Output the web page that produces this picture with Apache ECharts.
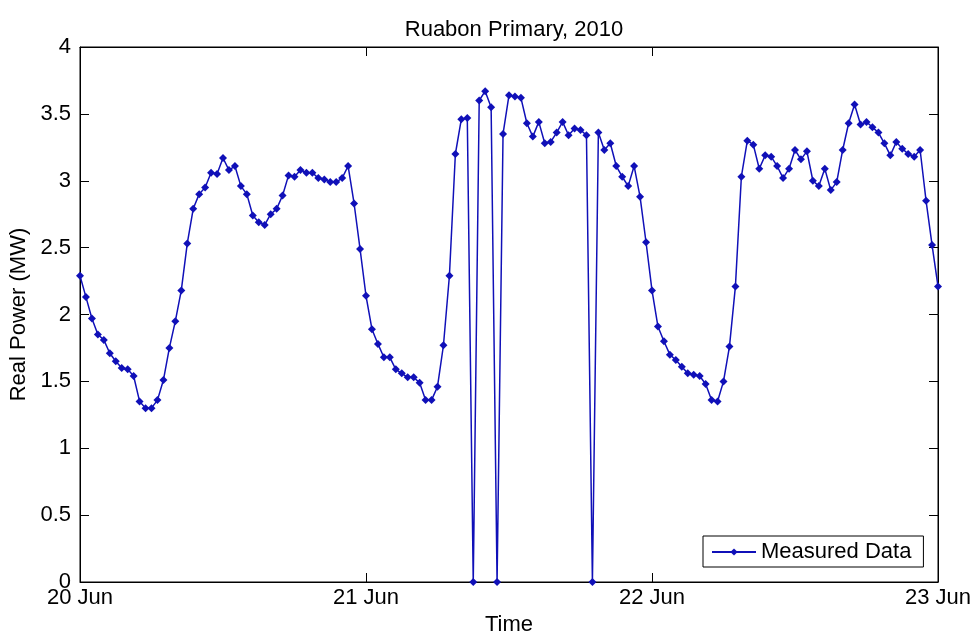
<!DOCTYPE html>
<html>
<head>
<meta charset="utf-8">
<script src="https://cdn.jsdelivr.net/npm/echarts@6/dist/echarts.min.js"></script>
<style>
html,body{margin:0;padding:0;background:#fff;}
#chart{width:975px;height:635px;}
</style>
</head>
<body>
<div id="chart"></div>
<script>
// Half-hourly samples (MW), 20 Jun 00:00 .. 23 Jun 00:00
const day20Values = [2.29,2.13,1.97,1.85,1.81,1.71,1.65,1.60,1.59,1.54,1.35,1.30,1.30,1.36,1.51,1.75,
  1.95,2.18,2.53,2.79,2.90,2.95,3.06,3.05,3.17,3.08,3.11,2.96,2.90,2.74,2.69,2.67,
  2.75,2.79,2.89,3.04,3.03,3.08,3.06,3.06,3.02,3.01,2.99,2.99,3.02,3.11,2.83,2.49];
const day21Values = [2.14,1.89,1.78,1.68,1.68,1.59,1.56,1.53,1.53,1.49,1.36,1.36,1.46,1.77,2.29,3.20,
  3.46,3.47,0,3.60,3.67,3.55,0,3.35,3.64,3.63,3.62,3.43,3.33,3.44,3.28,3.29,
  3.36,3.44,3.34,3.39,3.38,3.34,0,3.36,3.23,3.28,3.11,3.03,2.96,3.11,2.88,2.54];
const day22Values = [2.18,1.91,1.80,1.70,1.66,1.61,1.56,1.55,1.54,1.48,1.36,1.35,1.50,1.76,2.21,3.03,
  3.30,3.27,3.09,3.19,3.18,3.11,3.02,3.09,3.23,3.16,3.22,3.00,2.96,3.09,2.93,2.99,
  3.23,3.43,3.57,3.42,3.44,3.40,3.36,3.28,3.19,3.29,3.24,3.20,3.18,3.23,2.85,2.52,
  2.21];
const xTickLabels = ['20 Jun','21 Jun','22 Jun','23 Jun'];
const yTicks = [0,0.5,1,1.5,2,2.5,3,3.5,4];
const seriesName = 'Measured Data';
const titleText = 'Ruabon Primary, 2010';
const stepHours = 0.5;

const allValues = day20Values.concat(day21Values, day22Values);
const points = allValues.map((v, i) => [i * stepHours, v]);

const FONT = '"Liberation Sans", Arial, sans-serif';
const FS = 22;
const LINE = '#1010b8';

const tickStyle = {show: true, inside: true, length: 9, lineStyle: {color: '#000', width: 1}};
const lineAx = {show: true, onZero: false, lineStyle: {color: '#000', width: 1}};

const chart = echarts.init(document.getElementById('chart'), null, {renderer: 'canvas'});
chart.setOption({
  animation: false,
  backgroundColor: '#fff',
  title: {
    text: titleText, left: 509, top: 14, textAlign: 'center',
    textStyle: {fontFamily: FONT, fontSize: FS, fontWeight: 'normal', color: '#000'}
  },
  grid: {left: 80, right: 37, top: 47, bottom: 53, show: true, borderColor: '#000', borderWidth: 1,
    containLabel: false, outerBoundsMode: 'none'},
  legend: {
    data: [seriesName], left: 703, top: 536,
    backgroundColor: '#fff', borderColor: '#000', borderWidth: 1,
    padding: [5, 12, 4, 8], itemWidth: 44, itemHeight: 9,
    textStyle: {fontFamily: FONT, fontSize: FS, color: '#000'}
  },
  xAxis: [{
    type: 'value', min: 0, max: 72, interval: 24,
    name: 'Time', nameLocation: 'middle', nameGap: 28,
    nameTextStyle: {fontFamily: FONT, fontSize: FS, color: '#000'},
    axisLine: lineAx, axisTick: tickStyle,
    axisLabel: {fontFamily: FONT, fontSize: FS, color: '#000', margin: 5,
      formatter: v => xTickLabels[Math.round(v / 24)]},
    splitLine: {show: false}
  }, {
    type: 'value', min: 0, max: 72, interval: 24, position: 'top',
    axisLine: lineAx, axisTick: tickStyle,
    axisLabel: {show: false}, splitLine: {show: false}
  }],
  yAxis: [{
    type: 'value', min: 0, max: 4, interval: 0.5,
    name: 'Real Power (MW)', nameLocation: 'middle', nameGap: 49, nameRotate: 90,
    nameTextStyle: {fontFamily: FONT, fontSize: FS, color: '#000'},
    axisLine: lineAx, axisTick: tickStyle,
    axisLabel: {fontFamily: FONT, fontSize: FS, color: '#000', margin: 9,
      formatter: v => String(yTicks[Math.round(v / 0.5)])},
    splitLine: {show: false}
  }, {
    type: 'value', min: 0, max: 4, interval: 0.5, position: 'right',
    axisLine: lineAx, axisTick: tickStyle,
    axisLabel: {show: false}, splitLine: {show: false}
  }],
  series: [{
    name: seriesName, type: 'line', data: points,
    xAxisIndex: 0, yAxisIndex: 0,
    symbol: 'diamond', symbolSize: 8, showAllSymbol: true,
    lineStyle: {color: LINE, width: 1.5},
    itemStyle: {color: LINE},
    emphasis: {disabled: true}
  }]
});
</script>
</body>
</html>
